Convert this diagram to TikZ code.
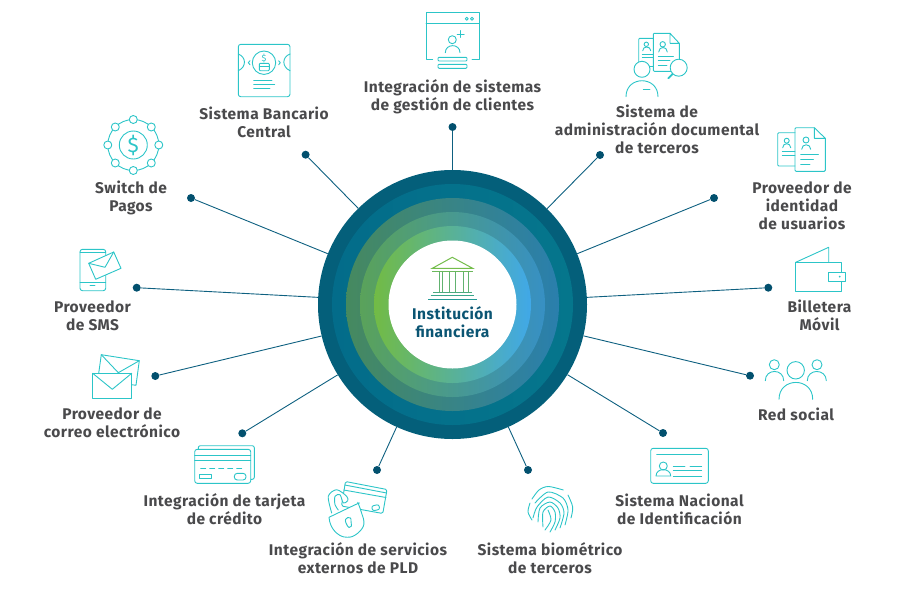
\documentclass[tikz,border=0pt]{standalone}
\usepackage{fontspec}
\setmainfont{Fira Sans}[LetterSpace=3]
\definecolor{icon}{HTML}{2CC5C8}
\definecolor{linecol}{HTML}{0E6080}
\definecolor{dotcol}{HTML}{02506E}
\definecolor{labelcol}{HTML}{4A4A4C}
\definecolor{hubtext}{HTML}{0B5573}
\definecolor{ringa}{HTML}{045F7A}
\definecolor{ringbl}{HTML}{036C8A}
\definecolor{ringbr}{HTML}{05768C}
\definecolor{ringcl}{HTML}{46895F}
\definecolor{ringcm}{HTML}{3A8A88}
\definecolor{ringcr}{HTML}{2A7FAD}
\definecolor{ringdl}{HTML}{5AA25A}
\definecolor{ringdm}{HTML}{4F9F86}
\definecolor{ringdr}{HTML}{3790C4}
\definecolor{ringel}{HTML}{72BB45}
\definecolor{ringem}{HTML}{62B98C}
\definecolor{ringer}{HTML}{40A8E8}
\definecolor{banka}{HTML}{74BD4B}
\definecolor{bankb}{HTML}{6CB85C}
\definecolor{bankc}{HTML}{62B270}
\definecolor{bankd}{HTML}{4BAA80}
\definecolor{banke}{HTML}{3AA58A}
\definecolor{bankf}{HTML}{259A96}

\begin{document}
\begin{tikzpicture}[x=1pt,y=-1pt,
    hub/.style={circle,fill=ringa,minimum size=269pt,inner sep=0pt},
    dot/.style={circle,fill=dotcol,minimum size=8pt,inner sep=0pt},
    link/.style={linecol,line width=0.9pt},
    label/.style={align=center,text=labelcol,inner sep=0pt,font=\fontsize{15.5}{18}\selectfont\bfseries},
    ic/.style={icon,line width=0.9pt,line join=round,line cap=round},
    icw/.style={ic,fill=white},
    bank/.style={line width=1pt}]
    \useasboundingbox (0,0) rectangle (905,600);

    %center
    \node[hub] (hub) at (452.5,304.5) {};
    \shade[left color=ringbl,right color=ringbr] (hub.center) circle (120.5pt);
    \shade[left color=ringcl,middle color=ringcm,right color=ringcr] (hub.center) circle (106.5pt);
    \shade[left color=ringdl,middle color=ringdm,right color=ringdr] (hub.center) circle (92.5pt);
    \shade[left color=ringel,middle color=ringem,right color=ringer] (hub.center) circle (78.5pt);
    \fill[white] (hub.center) circle (64pt);
    \node[label,text=hubtext] (hubname) at (452.5,322) {Institución\\financiera};

    %building
    \draw[bank,color=banka] (452.3,257.3) -- (432.3,268.3) -- (472.7,268.3) -- cycle;
    \draw[bank,color=bankb] (432.3,271.7) -- (472.7,271.7);
    \draw[bank,color=bankc] (439.3,272) -- (439.3,292) (442.3,272) -- (442.3,292);
    \draw[bank,color=bankc] (449.3,272) -- (449.3,292) (455,272) -- (455,292);
    \draw[bank,color=bankc] (463.3,272) -- (463.3,292) (468.3,272) -- (468.3,292);
    \draw[bank,color=bankd] (433.3,292.3) -- (472.3,292.3);
    \draw[bank,color=banke] (430.7,295.5) -- (474,295.5);
    \draw[bank,color=bankf] (428.3,299.3) -- (476.7,299.3);

    %dots
    \node[dot] (dotclients) at (452.5,127) {};
    \node[dot] (dotdocs) at (600,155) {};
    \node[dot] (dotidentity) at (714,198) {};
    \node[dot] (dotwallet) at (768.3,287.7) {};
    \node[dot] (dotsocial) at (750,375.7) {};
    \node[dot] (dotnational) at (663,433) {};
    \node[dot] (dotbiometric) at (528,470) {};
    \node[dot] (dotpld) at (377,470) {};
    \node[dot] (dotcard) at (242.3,433.3) {};
    \node[dot] (dotmail) at (155.3,376) {};
    \node[dot] (dotsms) at (136.7,287.7) {};
    \node[dot] (dotswitch) at (191,198) {};
    \node[dot] (dotcentral) at (305.6,154.7) {};

    %connectors
    \draw[link] (dotclients) -- (hub);
    \draw[link] (dotdocs) -- (hub);
    \draw[link] (dotidentity) -- (hub);
    \draw[link] (dotwallet) -- (hub);
    \draw[link] (dotsocial) -- (hub);
    \draw[link] (dotnational) -- (hub);
    \draw[link] (dotbiometric) -- (hub);
    \draw[link] (dotpld) -- (hub);
    \draw[link] (dotcard) -- (hub);
    \draw[link] (dotmail) -- (hub);
    \draw[link] (dotsms) -- (hub);
    \draw[link] (dotswitch) -- (hub);
    \draw[link] (dotcentral) -- (hub);

    %labels
    \node[label] (labelclients) at (452.5,97) {Integración de sistemas\\de gestión de clientes};
    \node[label] (labeldocs) at (657,129) {Sistema de\\administración documental\\de terceros};
    \node[label] (labelidentity) at (802,206) {Proveedor de\\identidad\\de usuarios};
    \node[label] (labelwallet) at (819.5,315) {Billetera\\Móvil};
    \node[label] (labelsocial) at (796,414) {Red social};
    \node[label] (labelnational) at (679.5,509) {Sistema Nacional\\de Identificación};
    \node[label] (labelbiometric) at (550,558) {Sistema biométrico\\de terceros};
    \node[label] (labelpld) at (358,558) {Integración de servicios\\externos de PLD};
    \node[label] (labelcard) at (224.5,509) {Integración de tarjeta\\de crédito};
    \node[label] (labelmail) at (112,423) {Proveedor de\\correo electrónico};
    \node[label] (labelsms) at (92.5,316) {Proveedor\\de SMS};
    \node[label] (labelswitch) at (131,198) {Switch de\\Pagos};
    \node[label] (labelcentral) at (264,122) {Sistema Bancario\\Central};

    %switch icon
    \draw[ic] (133.3,145) circle (25.5pt);
    \draw[ic] (133.3,145) circle (14pt);
    \draw[icw] (133.3,119.5) circle (4pt);
    \draw[icw] (151.3,127) circle (4pt);
    \draw[icw] (158.8,145) circle (4pt);
    \draw[icw] (151.3,163) circle (4pt);
    \draw[icw] (133.3,170.5) circle (4pt);
    \draw[icw] (115.3,163) circle (4pt);
    \draw[icw] (107.8,145) circle (4pt);
    \draw[icw] (115.3,127) circle (4pt);
    \node[text=icon,font=\fontsize{21}{21}\selectfont] (switchsign) at (133.3,145) {\$};

    %central bank icon
    \draw[ic,rounded corners=2.5pt] (238.3,44.3) rectangle (290,96.7);
    \draw[ic] (264,62.7) circle (11.7pt);
    \draw[ic] (238.3,54) .. controls (246.5,57) and (246.5,67) .. (238.3,70.7);
    \draw[ic] (290,54) .. controls (281.8,57) and (281.8,67) .. (290,70.7);
    \draw[ic] (250,60.7) -- (248.3,62.7) -- (250,64.7);
    \draw[ic] (278.6,60.7) -- (280.3,62.7) -- (278.6,64.7);
    \draw[ic] (253.7,80) -- (272,80);
    \draw[ic] (253.7,84) -- (274.7,84);
    \draw[ic] (253.7,88.7) -- (270,88.7);
    \draw[ic,rounded corners=1pt] (259.3,63.3) rectangle (269.3,70.7);
    \draw[ic] (259.3,66.5) -- (269.3,66.5);
    \node[text=icon,font=\fontsize{9}{9}\selectfont] (centralsign) at (264,58.3) {\$};

    %clients icon
    \draw[ic] (432.7,59.3) -- (426,59.3) -- (426,12.7) -- (479,12.7) -- (479,59.3) -- (472,59.3);
    \draw[ic] (426,23.7) -- (479,23.7);
    \draw[ic] (466.7,18.7) circle (1.5pt);
    \draw[ic] (472,18.7) circle (1.5pt);
    \draw[ic] (452.3,39.7) circle (4pt);
    \draw[ic] (445.3,52.7) .. controls (445.3,43.3) and (460,43.3) .. (460,52.7);
    \draw[ic] (457.2,34) -- (464.2,34);
    \draw[ic] (460.7,30.5) -- (460.7,37.5);
    \draw[ic,rounded corners=1pt] (438,57.3) rectangle (467,61);
    \draw[ic,rounded corners=1pt] (438,64.3) rectangle (467,68.3);

    %documents icon
    \draw[ic,rounded corners=1pt] (653.3,38.3) -- (638.7,38.3) -- (638.7,66) -- (640,66);
    \draw[ic] (646.3,44.3) circle (2.2pt);
    \draw[ic] (642.7,50.7) .. controls (642.7,45.8) and (650.7,45.8) .. (650.7,50.7);
    \draw[ic] (642.3,54.3) -- (653.3,54.3);
    \draw[ic] (642.3,57.3) -- (653.3,57.3);
    \draw[ic,rounded corners=1pt] (670,33.3) -- (653.3,33.3) -- (653.3,71.3) -- (679.3,71.3) -- (679.3,43.3);
    \draw[ic] (670,33.3) -- (679.3,43.3) -- (670,43.3) -- cycle;
    \draw[ic] (662.7,44.3) circle (2.7pt);
    \draw[ic] (658.7,52) .. controls (658.7,46) and (667.3,46) .. (667.3,52);
    \draw[ic] (658.3,56.7) -- (673.3,56.7);
    \draw[ic] (658.3,60) -- (670,60);
    \draw[ic] (658.3,65.3) -- (667,65.3);
    \draw[ic] (650,66.7) -- (653.3,66.7);
    \draw[icw] (678.7,67.7) circle (8.5pt);
    \draw[ic,line width=1.8pt] (672.5,74) -- (668.3,78.3);
    \draw[icw] (642,69.3) circle (8pt);
    \draw[ic] (626,96.7) .. controls (626,75.4) and (658,75.4) .. (658,96.7);
    \draw[ic] (643.3,89.3) -- (650,89.3);

    %identity icon
    \draw[ic,rounded corners=1pt] (795,132.7) -- (777.7,132.7) -- (777.7,166) -- (795,166);
    \draw[ic] (786.7,140.7) circle (2.5pt);
    \draw[ic] (782.7,147.7) .. controls (782.7,142.4) and (790.7,142.4) .. (790.7,147.7);
    \draw[ic] (782.3,151.7) -- (795,151.7);
    \draw[ic] (782.3,155.3) -- (795,155.3);
    \draw[ic,rounded corners=1pt] (814.3,127.7) -- (795,127.7) -- (795,171.3) -- (825.3,171.3) -- (825.3,138.3);
    \draw[ic] (814.3,127.7) -- (825.3,138.3) -- (814.3,138.3) -- cycle;
    \draw[ic] (806,140) circle (3pt);
    \draw[ic] (801.7,149.3) .. controls (801.7,143.3) and (810.7,143.3) .. (810.7,149.3);
    \draw[ic] (800.7,154.3) -- (818.3,154.3);
    \draw[ic] (800.7,159.3) -- (813.3,159.3);
    \draw[ic] (800.7,164) -- (810,164);

    %wallet icon
    \draw[ic] (795.7,262.3) rectangle (841.3,291);
    \draw[ic] (795.7,262.3) -- (828.7,247.3) -- (828.7,262.3);
    \draw[icw] (828,272.3) rectangle (845.3,281.3);
    \fill[icon] (839.7,276.7) circle (1pt);

    %social icon
    \draw[ic] (795.7,370.3) circle (8.7pt);
    \draw[ic] (779,399.3) .. controls (779,376.8) and (812.7,376.8) .. (812.7,399.3);
    \draw[ic] (774.3,364.7) circle (5pt);
    \draw[ic] (765.3,380.7) .. controls (765.3,368.4) and (783.7,368.4) .. (783.7,380.7);
    \draw[ic] (817,364.7) circle (5pt);
    \draw[ic] (807.3,380.7) .. controls (807.3,368.4) and (826.3,368.4) .. (826.3,380.7);

    %id card icon
    \draw[ic,rounded corners=2.5pt] (650.7,448.3) rectangle (708.3,483.3);
    \draw[ic] (656.7,454.7) -- (701.7,454.7);
    \draw[ic] (663.3,466) circle (4pt);
    \draw[ic] (656,476) .. controls (656,467.5) and (670.7,467.5) .. (670.7,476) -- cycle;
    \draw[ic] (673.3,466) -- (685,466);
    \draw[ic] (690,466) -- (701.7,466);
    \draw[ic] (673.3,470.7) -- (701.7,470.7);
    \draw[ic] (673.3,476) -- (701.7,476);

    %fingerprint icon
    \draw[ic] plot[smooth] coordinates {(532,520) (528,512) (530,503)};
    \draw[ic] plot[smooth] coordinates {(532,499) (539,490) (548.3,486.5) (563.3,490)};
    \draw[ic] plot[smooth] coordinates {(568,495) (572.7,507) (571,518)};
    \draw[ic] plot[smooth] coordinates {(535,503) (548,492) (563,498) (568,510) (565,525)};
    \draw[ic] plot[smooth] coordinates {(533,518) (537,507) (548,497) (560,503) (564,513) (560,528)};
    \draw[ic] plot[smooth] coordinates {(538,522) (540,508) (550,502) (558,508) (560,518) (555,530)};
    \draw[ic] plot[smooth] coordinates {(543,527) (543,512) (550,506) (555,512) (555,522) (550,532)};
    \draw[ic] plot[smooth] coordinates {(548,510) (551,520) (545,530)};

    %pld icon
    \draw[icw,rounded corners=1.5pt] (345.5,481.5) -- (387,489.5) -- (382.8,513.5) -- (341.5,506) -- cycle;
    \draw[ic] (344.8,485) -- (386.7,493);
    \draw[ic] (343.8,490) -- (386,497.5);
    \draw[ic,rotate around={12:(375.7,507.7)},rounded corners=2pt] (372,505.2) rectangle (379.4,510.2);
    \draw[icw] plot[smooth] coordinates {(331.7,513) (328.3,496.3) (336.7,489.7) (346.7,496.3) (347.7,500.7) (343.3,503) (340,494.7) (335,496.3) (335,504.7) (338.3,510)};
    \draw[icw,rounded corners=3pt] (329,517.3) -- (356.7,504) .. controls (358,503.5) and (358.5,504) .. (359,505) -- (364.3,521.3) .. controls (363,530) and (355,536.5) .. (347,537.5) .. controls (339,536) and (330,530) .. (329,517.3);
    \draw[ic] (346,523) .. controls (343,517) and (352,515) .. (351,521) -- (351.5,526) .. controls (350,528) and (348,528) .. (347.5,526) -- cycle;

    %card icon
    \draw[ic,rounded corners=2pt] (198.3,449.3) -- (198.3,445.7) -- (254.3,445.7) -- (254.3,479.3) -- (250.7,479.3);
    \draw[icw,rounded corners=2.5pt] (194.7,449.3) rectangle (250.7,483.3);
    \draw[ic] (194.7,455) -- (250.7,455);
    \draw[ic] (194.7,460) -- (250.7,460);
    \draw[ic,dash pattern=on 5pt off 4pt] (200.7,468) -- (245,468);
    \draw[ic] (199.3,474.3) rectangle (211.3,478.7);
    \draw[ic,rounded corners=3pt] (234.3,473.3) rectangle (246,480);

    %mail icon
    \draw[ic] (101.3,354.7) -- (139.3,360.7) -- (136,385.3) -- (131.7,384.7);
    \draw[ic] (101.3,354.7) -- (98.7,373.3);
    \draw[ic] (101.3,354.7) -- (118.3,372.7) -- (139.3,360.7);
    \draw[icw] (92.7,373.3) rectangle (131.7,398.7);
    \draw[ic] (92.7,373.3) -- (112.3,389.3) -- (131.7,373.3);

    %sms icon
    \draw[ic,rounded corners=2.5pt] (80,249.3) rectangle (105.7,290.7);
    \draw[ic] (80,252.7) -- (105.7,252.7);
    \draw[ic] (80,282.7) -- (105.7,282.7);
    \draw[ic] (90,285.7) -- (95,285.7);
    \draw[icw] (88.7,263.3) -- (113.7,252) -- (121,268.3) -- (95.7,279.3) -- cycle;
    \draw[ic] (88.7,263.3) -- (105,267.3) -- (113.7,252);
\end{tikzpicture}
\end{document}
